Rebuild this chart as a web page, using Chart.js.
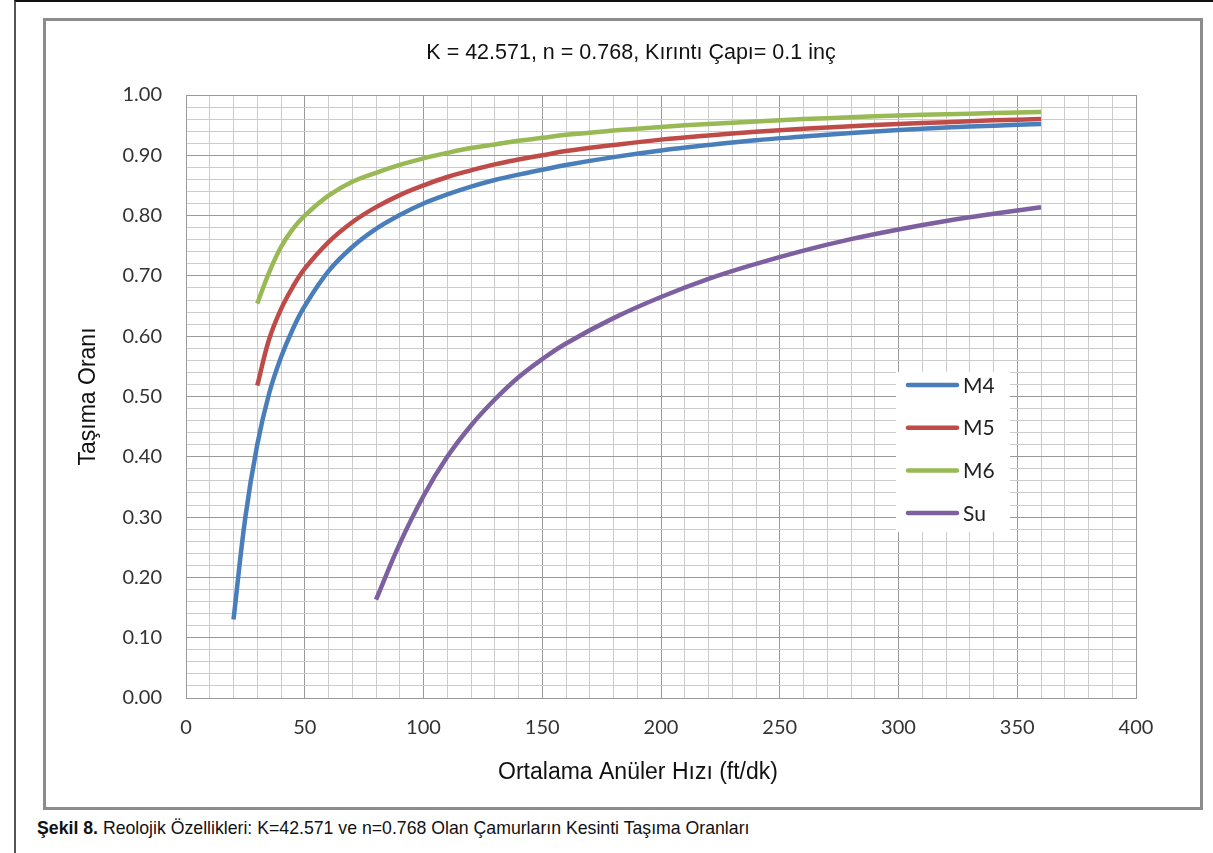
<!DOCTYPE html>
<html>
<head>
<meta charset="utf-8">
<script src="https://cdn.jsdelivr.net/npm/chart.js@4"></script>
<style>
  body { margin: 0; background: #fff; }
  #frame { position: absolute; left: 14px; top: 0; width: 1199px; height: 853px;
           border-left: 2px solid #555; border-top: 2px solid #111; box-sizing: border-box; }
  #box { position: absolute; left: 43px; top: 18px; width: 1160px; height: 792px;
         border: 3px solid #8c8c8c; box-sizing: border-box; }
  #c { position: absolute; left: 46px; top: 21px; }
  #caption { position: absolute; left: 37px; top: 818px; font: 17.7px "Liberation Sans", Arial, sans-serif; color: #111; }
</style>
</head>
<body>
<div id="frame"></div>
<div id="box"></div>
<canvas id="c" width="1153" height="785"></canvas>
<div id="caption"><b>Şekil 8.</b> Reolojik Özellikleri: K=42.571 ve n=0.768 Olan Çamurların Kesinti Taşıma Oranları</div>
<script>
// ortalama anüler hız (ft/dk)
const speeds = [20, 25, 30, 35, 40, 45, 50, 60, 70, 80, 90, 100, 110, 120, 130, 140, 150, 160, 180, 200, 220, 240, 260, 280, 300, 320, 340, 360];

// taşıma oranı, her çamur için
const m4 = [0.13, 0.30, 0.42, 0.505, 0.565, 0.612, 0.65, 0.708, 0.748, 0.778, 0.801, 0.82, 0.835, 0.848, 0.859, 0.868, 0.876, 0.884, 0.897, 0.908, 0.917, 0.925, 0.931, 0.937, 0.942, 0.946, 0.949, 0.952];
const m5 = [null, null, 0.518, 0.595, 0.645, 0.682, 0.712, 0.756, 0.789, 0.814, 0.834, 0.85, 0.864, 0.875, 0.885, 0.893, 0.90, 0.907, 0.917, 0.926, 0.933, 0.939, 0.944, 0.948, 0.952, 0.955, 0.958, 0.96];
const m6 = [null, null, 0.654, 0.706, 0.748, 0.778, 0.80, 0.833, 0.856, 0.871, 0.884, 0.895, 0.904, 0.912, 0.918, 0.924, 0.929, 0.934, 0.941, 0.947, 0.952, 0.956, 0.96, 0.963, 0.966, 0.968, 0.97, 0.972];
const su = [null, null, null, null, null, null, null, null, null, 0.163, 0.256, 0.335, 0.40, 0.452, 0.495, 0.532, 0.562, 0.588, 0.63, 0.665, 0.695, 0.72, 0.742, 0.761, 0.777, 0.791, 0.803, 0.814];

const seriesNames = ['M4', 'M5', 'M6', 'Su'];
const seriesColors = ['#4a7ebb', '#be4b48', '#98b954', '#7d60a0'];

const chartTitle = 'K = 42.571, n = 0.768, Kırıntı Çapı= 0.1 inç';
const xTitle = 'Ortalama Anüler Hızı (ft/dk)';

function toPoints(vals) {
  return speeds.map((s, i) => ({ x: s, y: vals[i] })).filter(p => p.y !== null);
}

const datasets = [m4, m5, m6, su].map((vals, i) => ({
  label: seriesNames[i],
  data: toPoints(vals),
  borderColor: seriesColors[i],
  backgroundColor: seriesColors[i],
  borderWidth: 4.5,
  pointRadius: 0,
  tension: 0.4,
  fill: false
}));

// titles and the boxed legend, placed like the Excel original
const excelBits = {
  id: 'excelBits',
  afterDraw(chart) {
    const ctx = chart.ctx;
    ctx.save();
    ctx.fillStyle = '#111';
    ctx.textAlign = 'center';
    ctx.textBaseline = 'middle';
    ctx.font = '21.5px "Liberation Sans", Arial, sans-serif';
    ctx.fillText(chartTitle, 585, 32);
    ctx.font = '23px "Liberation Sans", Arial, sans-serif';
    ctx.fillText(xTitle, 592, 752);

    ctx.fillStyle = '#fff';
    ctx.fillRect(850, 351, 114, 160);
    ctx.textAlign = 'left';
    ctx.font = '21px Lato, sans-serif';
    chart.data.datasets.forEach((ds, i) => {
      const y = 364 + i * 42.7;
      ctx.strokeStyle = ds.borderColor;
      ctx.lineWidth = 4.5;
      ctx.lineCap = 'round';
      ctx.beginPath();
      ctx.moveTo(862, y);
      ctx.lineTo(911, y);
      ctx.stroke();
      ctx.fillStyle = '#222';
      ctx.fillText(ds.label, 917, y + 1);
    });
    ctx.restore();
  }
};

const gridColor = major => major ? '#9a9a9a' : '#cccccc';

new Chart(document.getElementById('c'), {
  type: 'line',
  data: { datasets },
  plugins: [excelBits],
  options: {
    responsive: false,
    animation: false,
    layout: { padding: { top: 74, right: 63 } },
    plugins: {
      legend: { display: false },
      tooltip: { enabled: false },
      title: { display: false }
    },
    scales: {
      x: {
        type: 'linear',
        min: 0,
        max: 400,
        afterFit(s) { s.height = 108; },
        ticks: {
          stepSize: 10,
          autoSkip: false,
          maxRotation: 0,
          padding: 18,
          color: '#333',
          font: { family: 'Lato', size: 20 },
          callback: v => (v % 50 === 0 ? String(v) : '')
        },
        grid: {
          drawTicks: false,
          color: c => gridColor(c.tick && c.tick.value % 50 === 0)
        },
        border: { color: '#9a9a9a' }
      },
      y: {
        min: 0,
        max: 1,
        afterFit(s) { s.width = 140; },
        ticks: {
          stepSize: 0.02,
          autoSkip: false,
          padding: 24,
          color: '#333',
          font: { family: 'Lato', size: 20 },
          callback: v => (Math.round(v * 100) % 10 === 0 ? v.toFixed(2) : '')
        },
        grid: {
          drawTicks: false,
          color: c => gridColor(c.tick && Math.round(c.tick.value * 100) % 10 === 0)
        },
        border: { color: '#9a9a9a' },
        title: {
          display: true,
          text: 'Taşıma Oranı',
          color: '#111',
          font: { family: 'Liberation Sans', size: 23 },
          padding: { top: 29, bottom: 29 }
        }
      }
    }
  }
});
</script>
</body>
</html>
